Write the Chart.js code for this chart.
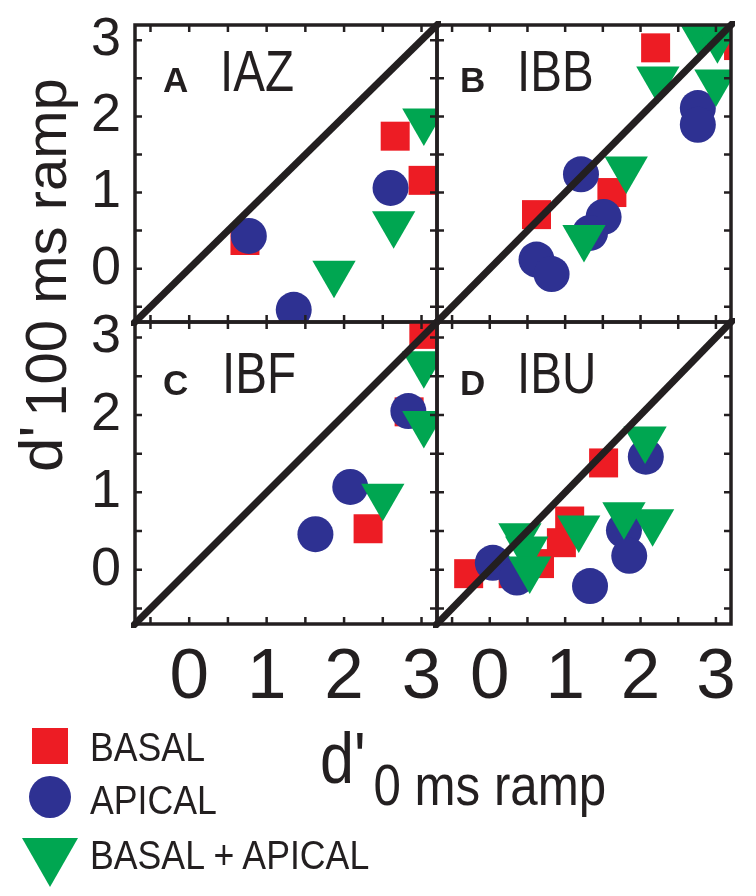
<!DOCTYPE html>
<html><head><meta charset="utf-8">
<script src="https://cdn.jsdelivr.net/npm/chart.js@4.4.1/dist/chart.umd.min.js"></script>
<style>
html,body{margin:0;padding:0;background:#fff;width:756px;height:896px;overflow:hidden;position:relative;}
canvas{position:absolute;left:0;top:0;}
.t{position:absolute;font-family:'Liberation Sans',Arial,sans-serif;color:#231f20;white-space:nowrap;line-height:1;transform-origin:0 0;}
.lt{font-weight:bold;font-size:35px;}
.pn{font-size:58px;transform:scaleX(0.82);}
.lg{font-size:41px;transform:scaleX(0.87);}
</style></head><body>
<canvas id="cA" width="756" height="896"></canvas>
<canvas id="cB" width="756" height="896"></canvas>
<canvas id="cC" width="756" height="896"></canvas>
<canvas id="cD" width="756" height="896"></canvas>

<div class="t lt" style="left:163px;top:62px">A</div>
<div class="t lt" style="left:460px;top:62px">B</div>
<div class="t lt" style="left:163px;top:365px">C</div>
<div class="t lt" style="left:460px;top:365px">D</div>
<div class="t pn" style="left:220px;top:42px">IAZ</div>
<div class="t pn" style="left:517px;top:42px">IBB</div>
<div class="t pn" style="left:222px;top:344px">IBF</div>
<div class="t pn" style="left:517px;top:344px">IBU</div>

<div class="t" style="left:320px;top:722px;transform:scaleX(0.85);"><span style="font-size:72px">d'</span><span style="font-size:58px;position:relative;top:22px;margin-left:9px">0 ms ramp</span></div>
<div class="t" style="left:10px;top:472px;transform:rotate(-90deg);"><span style="font-size:62px">d'</span><span style="font-size:58px;position:relative;top:4px;margin-left:9px">100 ms ramp</span></div>

<svg style="position:absolute;left:0;top:0" width="120" height="896">
<rect x="32" y="728" width="36" height="36" fill="#ED1C24"/>
<circle cx="50" cy="797" r="21" fill="#2E3192"/>
<polygon points="22,838 78,838 50,887" fill="#00A651"/>
</svg>
<div class="t lg" style="left:90px;top:727px">BASAL</div>
<div class="t lg" style="left:90px;top:780px">APICAL</div>
<div class="t lg" style="left:90px;top:835px">BASAL + APICAL</div>

<script>
// ---- data ----
const panelNames = ['IAZ', 'IBB', 'IBF', 'IBU'];
const seriesNames = ['BASAL', 'APICAL', 'BASAL + APICAL'];
const axisMin = -0.7, axisMax = 3.2;
const tickValues = [-0.5, 0, 0.5, 1, 1.5, 2, 2.5, 3];
const tickLabelValues = [0, 1, 2, 3];
const diagonal = [[-0.9, -0.9], [3.4, 3.4]];

const iazBasal  = [[0.72, 0.37], [2.66, 1.74], [3.02, 1.16]];
const iazApical = [[0.77, 0.43], [2.60, 1.06], [1.35, -0.54]];
const iazBoth   = [[3.03, 1.94], [2.64, 0.59], [1.87, -0.06]];

const ibbBasal  = [[2.20, 2.90], [3.30, 2.93], [1.62, 1.00], [0.62, 0.71]];
const ibbApical = [[2.76, 2.11], [2.76, 1.89], [1.21, 1.24], [1.51, 0.68], [1.33, 0.47], [0.62, 0.12], [0.82, -0.07]];
const ibbBoth   = [[2.78, 3.10], [3.02, 3.02], [2.23, 2.49], [3.00, 2.45], [1.81, 1.31], [1.25, 0.41]];

const ibfBasal  = [[3.03, 3.04], [2.84, 2.04], [2.31, 0.53]];
const ibfApical = [[2.83, 2.05], [2.08, 1.07], [1.63, 0.46]];
const ibfBoth   = [[3.03, 2.66], [3.03, 1.89], [2.50, 0.95]];

const ibuBasal  = [[1.51, 1.38], [1.06, 0.63], [0.95, 0.35], [0.66, 0.08], [0.31, -0.05], [-0.28, -0.05]];
const ibuApical = [[2.07, 1.46], [1.78, 0.51], [1.85, 0.18], [1.33, -0.21], [0.04, 0.09], [0.36, -0.10]];
const ibuBoth   = [[2.06, 1.69], [1.78, 0.71], [2.16, 0.62], [1.18, 0.54], [0.40, 0.44], [0.49, 0.27], [0.53, 0.01]];

// ---- styles ----
const INK = '#231f20';
const RED = '#ED1C24', BLUE = '#2E3192', GREEN = '#00A651';
const pts = a => a.map(p => ({x: p[0], y: p[1]}));

const framePlugin = {
  id: 'frame',
  afterDraw(chart) {
    const {ctx, chartArea: a} = chart;
    const xs = chart.scales.x, ys = chart.scales.y;
    const L = 7;
    ctx.save();
    ctx.strokeStyle = INK;
    ctx.lineWidth = 2.5;
    ctx.beginPath();
    xs.ticks.forEach(t => {
      const px = xs.getPixelForValue(t.value);
      ctx.moveTo(px, a.bottom); ctx.lineTo(px, a.bottom - L);
      ctx.moveTo(px, a.top); ctx.lineTo(px, a.top + L);
    });
    ys.ticks.forEach(t => {
      const py = ys.getPixelForValue(t.value);
      ctx.moveTo(a.left, py); ctx.lineTo(a.left + L, py);
      ctx.moveTo(a.right, py); ctx.lineTo(a.right - L, py);
    });
    ctx.stroke();
    ctx.lineWidth = 3.5;
    ctx.strokeRect(a.left, a.top, a.right - a.left, a.bottom - a.top);
    ctx.restore();
  }
};

function makePanel(canvasId, basal, apical, both, area, showX, showY) {
  const yW = 100, xH = 100;
  const padding = {
    left: showY ? area.left - yW : area.left,
    right: 756 - area.right,
    top: area.top,
    bottom: showX ? 896 - area.bottom - xH : 896 - area.bottom
  };
  const labelCb = v => (tickLabelValues.includes(v) ? String(v) : '');
  return new Chart(document.getElementById(canvasId), {
    type: 'scatter',
    data: {
      datasets: [
        {data: pts(diagonal), showLine: true, borderColor: INK, borderWidth: 7, pointRadius: 0, clip: 4, borderCapStyle: 'butt'},
        {label: seriesNames[2], data: pts(both), pointStyle: 'triangle', rotation: 180, pointRadius: 25, backgroundColor: GREEN, borderWidth: 0},
        {label: seriesNames[1], data: pts(apical), pointStyle: 'circle', pointRadius: 18, backgroundColor: BLUE, borderWidth: 0},
        {label: seriesNames[0], data: pts(basal), pointStyle: 'rect', pointRadius: 20.5, backgroundColor: RED, borderWidth: 0}
      ]
    },
    options: {
      responsive: false, animation: false, devicePixelRatio: 1, events: [],
      layout: {padding},
      plugins: {legend: {display: false}, tooltip: {enabled: false}},
      scales: {
        x: {
          type: 'linear', min: axisMin, max: axisMax,
          afterBuildTicks: s => { s.ticks = tickValues.map(v => ({value: v})); },
          afterFit: s => { s.height = showX ? xH : 0; s.paddingLeft = 0; s.paddingRight = 0; },
          grid: {display: false}, border: {display: false},
          ticks: {display: showX, autoSkip: false, maxRotation: 0, padding: 4, color: INK,
                  font: {family: "'Liberation Sans',Arial,sans-serif", size: 71},
                  callback: labelCb}
        },
        y: {
          type: 'linear', min: axisMin, max: axisMax,
          afterBuildTicks: s => { s.ticks = tickValues.map(v => ({value: v})); },
          afterFit: s => { s.width = showY ? yW : 0; s.paddingTop = 0; s.paddingBottom = 0; },
          grid: {display: false}, border: {display: false},
          ticks: {display: showY, autoSkip: false, padding: 6, color: INK,
                  font: {family: "'Liberation Sans',Arial,sans-serif", size: 54},
                  callback: labelCb}
        }
      }
    },
    plugins: [framePlugin]
  });
}

makePanel('cA', iazBasal, iazApical, iazBoth, {left: 135, top: 20, right: 437, bottom: 322}, false, true);
makePanel('cB', ibbBasal, ibbApical, ibbBoth, {left: 437, top: 20, right: 742, bottom: 322}, false, false);
makePanel('cC', ibfBasal, ibfApical, ibfBoth, {left: 135, top: 322, right: 437, bottom: 624}, true, true);
makePanel('cD', ibuBasal, ibuApical, ibuBoth, {left: 437, top: 322, right: 742, bottom: 624}, true, false);
</script>
</body></html>
